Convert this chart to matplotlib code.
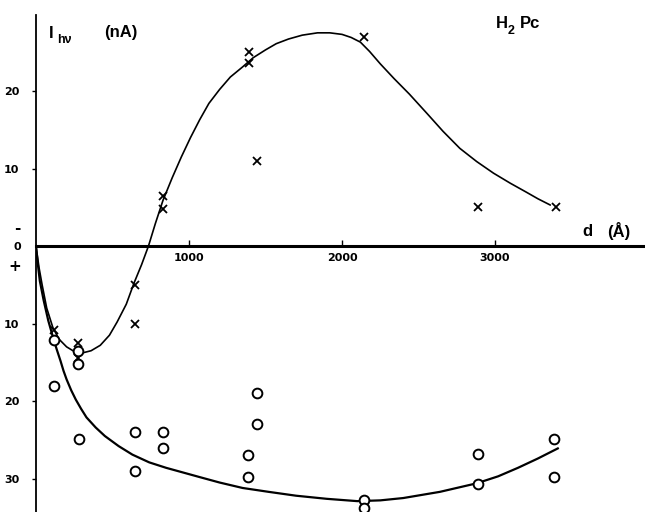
import matplotlib
matplotlib.use("Agg")
import matplotlib.pyplot as plt
from matplotlib.ticker import FixedLocator, FixedFormatter

# photocurrent I_hv (nA) vs film thickness d (A), H2Pc
# sign convention: upward = "-" current, downward = "+" current
x_pts_d = [118, 275, 275, 647, 647, 830, 830, 1392, 1392, 1444, 2144, 2889, 3399]
x_pts_i = [-10.8, -12.5, -14.4, -5.0, -10.1, 6.4, 4.8, 25.0, 23.6, 11.0, 27.0, 5.0, 5.0]

o_pts_d = [118, 118, 275, 275, 281, 647, 647, 830, 830, 1444, 1444, 1386, 1386,
           2144, 2144, 2889, 2889, 3386, 3386]
o_pts_i = [-12.1, -18.1, -13.5, -15.2, -24.9, -24.0, -29.0, -24.0, -26.1, -19.0, -23.0,
           -27.0, -29.8, -32.8, -33.8, -26.8, -30.7, -24.9, -29.8]

# hand drawn curves
curve_x_d = [0, 20, 40, 70, 110, 150, 200, 250, 300, 360, 420, 480, 530, 590, 640, 690,
             735, 780, 830, 890, 950, 1010, 1070, 1130, 1200, 1270, 1350, 1420, 1500,
             1570, 1650, 1740, 1840, 1920, 2000, 2060, 2120, 2180, 2250, 2340, 2440,
             2500, 2560, 2660, 2770, 2880, 2990, 3100, 3200, 3280, 3360]
curve_x_i = [0, -2.8, -5.0, -8.0, -10.5, -12.0, -13.0, -13.6, -13.8, -13.5, -12.8, -11.5,
             -9.8, -7.5, -4.8, -2.4, 0, 2.9, 5.9, 8.8, 11.5, 14.0, 16.3, 18.4, 20.2, 21.8,
             23.1, 24.3, 25.3, 26.1, 26.7, 27.2, 27.5, 27.5, 27.3, 26.9, 26.3, 25.1, 23.5,
             21.6, 19.6, 18.3, 17.0, 14.8, 12.6, 10.9, 9.4, 8.1, 7.0, 6.1, 5.3]

curve_o_d = [0, 5, 10, 25, 50, 80, 110, 135, 160, 180, 200, 230, 260, 295, 330, 390,
             450, 540, 630, 740, 850, 960, 1070, 1200, 1350, 1520, 1700, 1900, 2100,
             2250, 2400, 2640, 2880, 3020, 3150, 3280, 3410]
curve_o_i = [0, -1.0, -2.0, -4.5, -7.0, -9.6, -11.7, -13.3, -14.8, -16.1, -17.2, -18.6,
             -19.8, -21.0, -22.1, -23.4, -24.5, -25.8, -26.9, -27.9, -28.6, -29.2, -29.8,
             -30.5, -31.2, -31.7, -32.2, -32.6, -32.9, -32.8, -32.5, -31.7, -30.6, -29.7,
             -28.6, -27.4, -26.1]

y_major = [20, 10, -10, -20, -30]
y_major_labels = ["20", "10", "10", "20", "30"]
y_sign = [2.5, 0, -2.5]
y_sign_labels = ["-", "0", "+"]
x_ticks = [1000, 2000, 3000]

W, H = 645, 512
fig = plt.figure(figsize=(W / 100, H / 100), dpi=100)
ax = fig.add_axes([36 / W, 0, 609 / W, 497 / H])

ax.plot(curve_x_d, curve_x_i, color="black", lw=1.2)
ax.plot(curve_o_d, curve_o_i, color="black", lw=1.6)
ax.plot(x_pts_d, x_pts_i, ls="none", marker="x", ms=6, mew=1.3, color="black")
ax.plot(o_pts_d, o_pts_i, ls="none", marker="o", ms=7, mew=1.4, mfc="white", mec="black")

ax.set_xlim(0, 3980)
ax.set_ylim(-34.3, 29.8)

for s in ["top", "right"]:
    ax.spines[s].set_visible(False)
ax.spines["left"].set_linewidth(1.3)
ax.spines["bottom"].set_position(("data", 0))
ax.spines["bottom"].set_linewidth(2.2)

ax.set_xticks(x_ticks)
ax.set_xticklabels([str(t) for t in x_ticks], fontsize=8, fontweight="bold", family="DejaVu Sans")
ax.tick_params(axis="x", direction="in", length=4, width=1, pad=5)

ax.yaxis.set_major_locator(FixedLocator(y_major))
ax.yaxis.set_major_formatter(FixedFormatter(y_major_labels))
ax.yaxis.set_minor_locator(FixedLocator(y_sign))
ax.yaxis.set_minor_formatter(FixedFormatter(y_sign_labels))
ax.tick_params(axis="y", which="major", direction="out", length=3, width=1, pad=9,
               labelsize=8)
ax.tick_params(axis="y", which="minor", length=0, pad=11, labelsize=11)
for lab in ax.get_yticklabels(which="both"):
    lab.set_fontweight("bold")
fig.canvas.draw()
for lab in ax.get_yticklabels(minor=True):
    if lab.get_text() == "0":
        lab.set_fontsize(8)

# labels, placed in figure pixels
def ftext(x, y, s, size, **kw):
    fig.text(x / W, 1 - y / H, s, fontsize=size, fontweight="bold",
             family="Liberation Sans", va="center", ha="left", **kw)

ftext(49, 33, "I", 12)
ftext(57, 40, "h\u03bd", 9)
ftext(104, 33, "(nA)", 12)
ftext(496, 23, "H", 12)
ftext(508, 31, "2", 9)
ftext(520, 23, "Pc", 12)
ftext(582, 231, "d", 12)
ftext(607, 231, "(\u00c5)", 12)

fig.savefig("out.png", dpi=100)
